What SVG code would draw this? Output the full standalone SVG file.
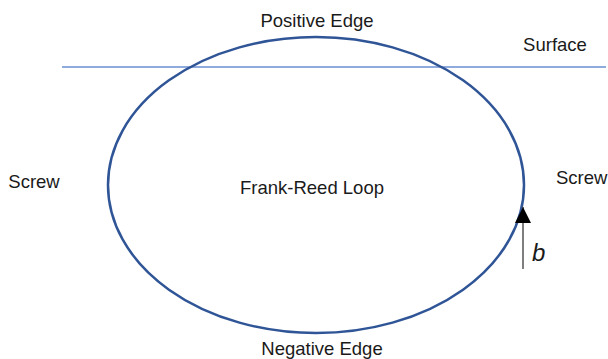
<svg xmlns="http://www.w3.org/2000/svg" width="608" height="359" viewBox="0 0 608 359">
<style>
text{font-family:"Liberation Sans",Arial,sans-serif;font-size:18.5px;fill:#1a1a1a}
.c{text-anchor:middle}
</style>
<defs>
<marker id="ah" viewBox="0 0 10 10" refX="10" refY="5" markerWidth="16" markerHeight="16" markerUnits="userSpaceOnUse" orient="auto"><path d="M0,0L10,5L0,10z" fill="#000"/></marker>
</defs>
<rect width="608" height="359" fill="#fff"/>
<g id="surface">
<line x1="62" y1="67" x2="606" y2="67" stroke="#8faadc" stroke-width="2"/>
<text x="555" y="51" class="c">Surface</text>
</g>
<g id="loop">
<ellipse cx="316" cy="185" rx="208" ry="148" fill="none" stroke="#2f5597" stroke-width="2.5"/>
<text x="312" y="194" class="c">Frank-Reed Loop</text>
</g>
<g id="labels">
<text x="317" y="27" class="c">Positive Edge</text>
<text x="322" y="355" class="c">Negative Edge</text>
<text x="34" y="188" class="c">Screw</text>
<text x="556" y="184">Screw</text>
</g>
<g id="connectors">
<line x1="523" y1="269" x2="523" y2="207" stroke="#555" stroke-width="1.5" marker-end="url(#ah)"/>
<text x="532" y="261" style="font-style:italic;font-size:24px">b</text>
</g>
</svg>
